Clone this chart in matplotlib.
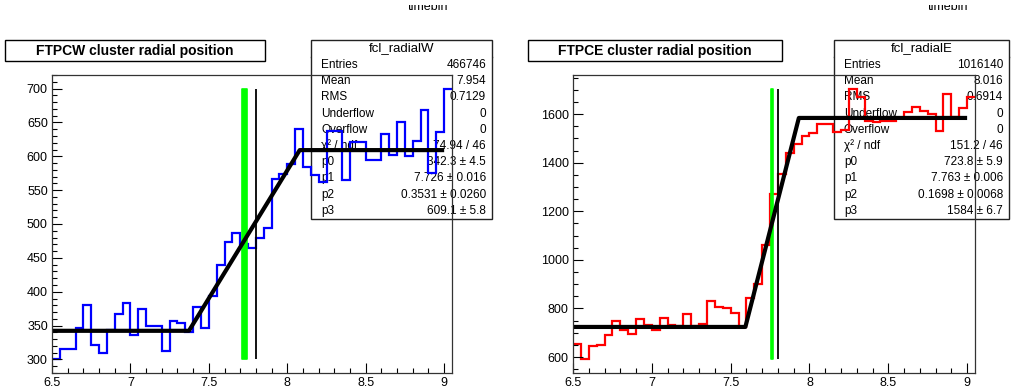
import matplotlib
matplotlib.use("Agg")
import matplotlib.pyplot as plt
import numpy as np
from matplotlib.patches import Rectangle
from matplotlib.ticker import MultipleLocator, FuncFormatter

plt.rcParams["font.family"] = ["Liberation Sans", "DejaVu Sans"]

# bin edges (0.05 wide, 6.5 -> 9.05)
bin_edges = np.linspace(6.5, 9.05, 52)

west_counts = [300, 316, 315, 347, 381, 321, 310, 344, 367, 383,
               336, 374, 350, 349, 312, 357, 354, 341, 378, 347,
               393, 439, 474, 487, 470, 464, 480, 494, 566, 574,
               588, 640, 584, 572, 562, 638, 638, 565, 621, 621,
               594, 594, 633, 602, 650, 601, 623, 669, 575, 636,
               700]
east_counts = [655, 590, 645, 651, 690, 749, 712, 693, 756, 730,
               713, 760, 731, 727, 777, 727, 736, 831, 807, 800,
               781, 724, 842, 899, 1062, 1270, 1354, 1439, 1476, 1510,
               1524, 1558, 1561, 1525, 1535, 1705, 1672, 1570, 1566, 1572,
               1572, 1582, 1607, 1628, 1612, 1602, 1531, 1683, 1586, 1625,
               1672]

# fit parameters p0..p3 and error on p1
west_params = [342.3, 7.726, 0.3531, 609.1]
west_p1_err = 0.016
east_params = [723.8, 7.763, 0.1696, 1584.0]
east_p1_err = 0.006
fit_range = [6.5, 9.0]
cut_position = 7.8

west_stats = [("Entries", "466746"), ("Mean", "7.954"), ("RMS", "0.7129"),
              ("Underflow", "0"), ("Overflow", "0"),
              ("χ² / ndf", "74.94 / 46"), ("p0", "342.3 ± 4.5"),
              ("p1", "7.726 ± 0.016"), ("p2", "0.3531 ± 0.0260"),
              ("p3", "609.1 ± 5.8")]
east_stats = [("Entries", "1016140"), ("Mean", "8.016"), ("RMS", "0.6914"),
              ("Underflow", "0"), ("Overflow", "0"),
              ("χ² / ndf", "151.2 / 46"), ("p0", "723.8 ± 5.9"),
              ("p1", "7.763 ± 0.006"), ("p2", "0.1698 ± 0.0068"),
              ("p3", "1584 ± 6.7")]

W, H = 1013, 392
fig = plt.figure(figsize=(W / 100, H / 100), dpi=100)


def fx(x):
    return x / W


def fy(y):
    return 1 - y / H


def fit_curve(p):
    # piecewise: flat p0, linear ramp over p1 +- p2, flat p3
    p0, p1, p2, p3 = p
    xs = np.array([fit_range[0], p1 - p2, p1 + p2, fit_range[1]])
    ys = np.array([p0, p0, p3, p3])
    return xs, ys


panels = [
    dict(counts=west_counts, params=west_params, err=west_p1_err,
         color="#0000ff", stats=west_stats, name="fcl_radialW",
         title="FTPCW cluster radial position",
         frame=(52, 75, 452, 373), title_box=(5, 40, 265, 61),
         stats_box=(311, 40, 492, 219), major=50, minor=10, tb=428),
    dict(counts=east_counts, params=east_params, err=east_p1_err,
         color="#ff0000", stats=east_stats, name="fcl_radialE",
         title="FTPCE cluster radial position",
         frame=(573, 75, 975, 373), title_box=(528, 40, 782, 61),
         stats_box=(834, 40, 1009, 219), major=200, minor=50, tb=948),
]

# strip at the top where the "timebin" labels get cut off
top_ax = fig.add_axes([0, fy(30), 1, (30 - 4.5) / H])
top_ax.set_axis_off()
top_ax.set_xlim(0, W)
top_ax.set_ylim(30, 4.5)

for pan in panels:
    x0, y0, x1, y1 = pan["frame"]
    ax = fig.add_axes([fx(x0), fy(y1), fx(x1 - x0), (y1 - y0) / H])
    ax.set_zorder(3)
    ax.patch.set_alpha(0)

    counts = np.array(pan["counts"], dtype=float)
    cmin, cmax = counts.min(), counts.max()
    span = cmax - cmin

    ax.stairs(counts, bin_edges, baseline=None, color=pan["color"], lw=1.6)

    # green band = p1 +- error, black line = cut
    p1 = pan["params"][1]
    ax.fill_betweenx([cmin, cmax], p1 - pan["err"], p1 + pan["err"],
                     color="#00ff00", lw=1.2, edgecolor="#00ff00")
    ax.vlines(cut_position, cmin, cmax, color="black", lw=1.3)

    xs, ys = fit_curve(pan["params"])
    ax.plot(xs, ys, color="black", lw=3.0, solid_capstyle="butt")

    ax.set_xlim(bin_edges[0], bin_edges[-1])
    ax.set_ylim(cmin - 0.05 * span, cmax + 0.05 * span)
    ax.xaxis.set_major_locator(MultipleLocator(0.5))
    ax.xaxis.set_minor_locator(MultipleLocator(0.1))
    ax.yaxis.set_major_locator(MultipleLocator(pan["major"]))
    ax.yaxis.set_minor_locator(MultipleLocator(pan["minor"]))
    ax.xaxis.set_major_formatter(FuncFormatter(lambda v, _: f"{v:g}"))
    ax.tick_params(which="both", direction="in", top=False, right=False,
                   width=0.8, labelsize=9)
    ax.tick_params(which="major", length=7.2, pad=3)
    ax.tick_params(which="minor", length=3.6)
    for sp in ax.spines.values():
        sp.set_color("#333333")
        sp.set_linewidth(0.9)

    # title box
    tx0, ty0, tx1, ty1 = pan["title_box"]
    fig.patches.append(Rectangle((fx(tx0), fy(ty1)), fx(tx1 - tx0), (ty1 - ty0) / H,
                                 transform=fig.transFigure, facecolor="white",
                                 edgecolor="black", lw=1.0, zorder=4))
    fig.text(fx((tx0 + tx1) / 2), fy((ty0 + ty1) / 2), pan["title"],
             ha="center", va="center", fontsize=10, fontweight="bold", zorder=5)

    # stats box (drawn below the axes so hist lines pass over it)
    sx0, sy0, sx1, sy1 = pan["stats_box"]
    fig.patches.append(Rectangle((fx(sx0), fy(sy1)), fx(sx1 - sx0), (sy1 - sy0) / H,
                                 transform=fig.transFigure, facecolor="white",
                                 edgecolor="#222222", lw=1.0, zorder=1))
    fig.lines.append(plt.Line2D([fx(sx0), fx(sx1)], [fy(57), fy(57)],
                                transform=fig.transFigure, color="#222222",
                                lw=1.0, zorder=1))
    fig.text(fx((sx0 + sx1) / 2), fy(48.5), pan["name"], ha="center",
             va="center", fontsize=9.5, zorder=2)
    for i, (lab, val) in enumerate(pan["stats"]):
        yy = fy(65 + 16.2 * i)
        fig.text(fx(sx0 + 10), yy, lab, ha="left", va="center", fontsize=8.5, zorder=2)
        fig.text(fx(sx1 - 6), yy, val, ha="right", va="center", fontsize=8.5, zorder=2)

    # half-clipped "timebin" label at the very top
    top_ax.text(pan["tb"], 10, "timebin", ha="center", va="baseline",
                fontsize=9, clip_on=True)

fig.savefig("out.png", dpi=100)
